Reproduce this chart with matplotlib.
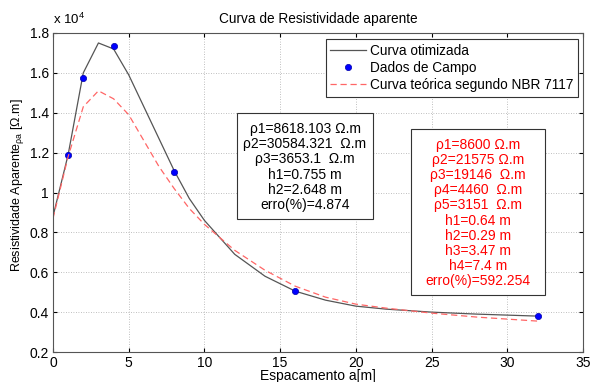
import matplotlib
matplotlib.use("Agg")
import matplotlib.pyplot as plt
from matplotlib.patches import Rectangle

plt.rcParams['font.family'] = ['Liberation Sans', 'DejaVu Sans']
plt.rcParams['mathtext.fontset'] = 'custom'
plt.rcParams['mathtext.rm'] = 'Liberation Sans'
plt.rcParams['mathtext.it'] = 'Liberation Sans'
plt.rcParams['mathtext.sf'] = 'Liberation Sans'

# Data (y in units of 1e4 ohm.m)
x_curve = [0, 1, 2, 3, 4, 5, 6, 7, 8, 9, 10, 12, 14, 16, 18, 20, 22, 25, 28, 32]
y_otimizada = [0.88, 1.19, 1.60, 1.75, 1.72, 1.59, 1.43, 1.27, 1.11, 0.97, 0.86,
               0.69, 0.58, 0.505, 0.46, 0.43, 0.415, 0.40, 0.39, 0.38]
y_teorica = [0.87, 1.18, 1.43, 1.51, 1.47, 1.39, 1.26, 1.13, 1.02, 0.92, 0.84,
             0.71, 0.61, 0.53, 0.475, 0.44, 0.42, 0.395, 0.375, 0.355]
x_campo = [1, 2, 4, 8, 16, 32]
y_campo = [1.19, 1.575, 1.735, 1.105, 0.505, 0.38]

x_ticks = [0, 5, 10, 15, 20, 25, 30, 35]
y_ticks = [0.2, 0.4, 0.6, 0.8, 1.0, 1.2, 1.4, 1.6, 1.8]
y_ticklabels = ['0.2', '0.4', '0.6', '0.8', '1', '1.2', '1.4', '1.6', '1.8']

legend_labels = ['Curva otimizada', 'Dados de Campo', 'Curva teórica segundo NBR 7117']
box1_text = "\u03c11=8618.103 \u03a9.m\n\u03c12=30584.321  \u03a9.m\n\u03c13=3653.1  \u03a9.m\nh1=0.755 m\nh2=2.648 m\nerro(%)=4.874"
box2_text = "\u03c11=8600 \u03a9.m\n\u03c12=21575 \u03a9.m\n\u03c13=19146  \u03a9.m\n\u03c14=4460  \u03a9.m\n\u03c15=3151  \u03a9.m\nh1=0.64 m\nh2=0.29 m\nh3=3.47 m\nh4=7.4 m\nerro(%)=592.254"

W, H = 590, 382
L, R, T, B = 53, 583, 33, 352
fig = plt.figure(figsize=(5.9, 3.82), dpi=100)
ax = fig.add_axes([L/W, 1-B/H, (R-L)/W, (B-T)/H])

def ax_fx(px):
    return (px - L) / (R - L)

def ax_fy(py):
    return 1 - (py - T) / (B - T)

ax.plot(x_curve, y_otimizada, color='#555555', lw=0.9, label=legend_labels[0])
ax.plot(x_campo, y_campo, 'o', color='#0000ff', ms=4.5, markeredgecolor='#0000aa',
        markeredgewidth=0.5, label=legend_labels[1])
ax.plot(x_curve, y_teorica, '--', color='#ff6666', lw=0.9, dashes=(5, 3), label=legend_labels[2])

ax.set_xlim(0, 35)
ax.set_ylim(0.2, 1.8)
ax.set_xticks(x_ticks)
ax.set_yticks(y_ticks)
ax.set_yticklabels(y_ticklabels)
ax.tick_params(direction='in', top=True, right=True, labelsize=10, length=3, pad=3)
ax.grid(True, linestyle=(0, (1, 2)), color='#aaaaaa', lw=0.6)
for s in ax.spines.values():
    s.set_color('#555555')
    s.set_linewidth(0.8)

ax.set_title('Curva de Resistividade aparente', fontsize=9.8, pad=7)
ax.set_xlabel('Espacamento a[m]', fontsize=10, labelpad=-1)
ax.set_ylabel('Resistividade Aparente$_{\u03c1\\mathrm{a}}$ [\u03a9.m]', fontsize=9)
ax.yaxis.set_label_coords(-(L - 26) / (R - L), ax_fy(185))
fig.text(L/W, 1-19/H, 'x 10$^{4}$', fontsize=9.5, ha='left', va='center')

leg = ax.legend(loc='upper right', bbox_to_anchor=(ax_fx(578), ax_fy(39)), fontsize=9.8,
                fancybox=False, framealpha=1, edgecolor='#333333', borderpad=0.35,
                labelspacing=0.22, handlelength=2.6, handletextpad=0.3, borderaxespad=0)
leg.get_frame().set_linewidth(0.8)

# text boxes
for (x0, y0, x1, y1, txt, col) in [(237, 113, 373, 219, box1_text, 'black'),
                                    (411, 129, 545, 295, box2_text, 'red')]:
    ax.add_patch(Rectangle((ax_fx(x0), ax_fy(y1)), ax_fx(x1) - ax_fx(x0), ax_fy(y0) - ax_fy(y1),
                           transform=ax.transAxes, facecolor='white', edgecolor='#333333',
                           lw=0.8, zorder=5))
    ax.text(ax_fx((x0 + x1) / 2), ax_fy((y0 + y1) / 2 + 1), txt, transform=ax.transAxes,
            ha='center', va='center', fontsize=10, linespacing=1.1, color=col, zorder=6)

fig.savefig('out.png', dpi=100)
